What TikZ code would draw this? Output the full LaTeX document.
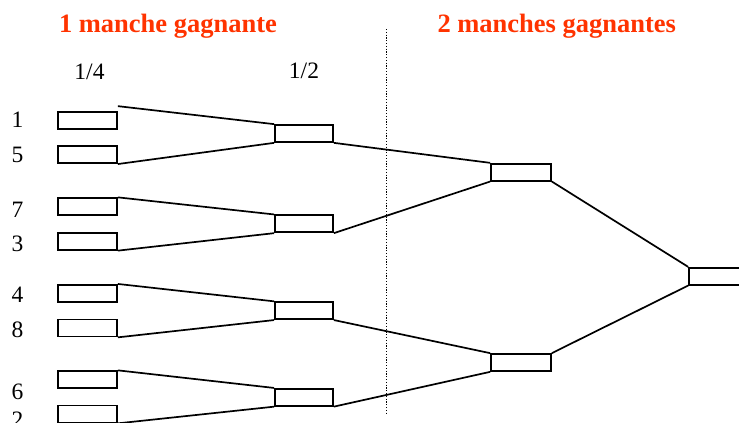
\documentclass[tikz,border=0pt]{standalone}
\usepackage{fontspec}
\setmainfont{Liberation Serif}
\usepackage{tikz}

\definecolor{titlered}{RGB}{255,51,0}

\begin{document}
\begin{tikzpicture}[x = 1pt, y = -1pt,
		slot/.style = {draw, rectangle, line width = 1.7pt, inner sep = 0pt, minimum width = 59pt, minimum height = 17pt},
		link/.style = {line width = 1.7pt},
		player/.style = {anchor = base, font = \fontsize{23.5}{28}\selectfont},
		heading/.style = {anchor = base west, text = titlered, font = \fontsize{26.5}{30}\selectfont\bfseries}]
	
		% Frame of the picture
		\useasboundingbox (0, 0) rectangle (739, 423);
		\clip (0, 0) rectangle (739, 423);
		
		% Titles
		\node[heading] (h1) at (55.5, 32) {1 manche gagnante};
		\node[heading] (h2) at (434, 32) {2 manches gagnantes};
		\node[player] (r4) at (89.5, 79.5) {1/4};
		\node[player] (r2) at (304, 78.5) {1/2};
		
		% Separator
		\coordinate (septop) at (386.7, 29);
		\coordinate (sepbot) at (386.7, 413);
		\draw[line width = 1.4pt, dash pattern = on 1.1pt off 1.7pt] (septop) -- (sepbot);
		
		% Players
		\node[player] (n1) at (17.5, 127.5) {1};
		\node[player] (n5) at (17.5, 162) {5};
		\node[player] (n7) at (17.5, 217) {7};
		\node[player] (n3) at (17.5, 251.5) {3};
		\node[player] (n4) at (17.5, 302) {4};
		\node[player] (n8) at (17.5, 337) {8};
		\node[player] (n6) at (17.5, 399.5) {6};
		\node[player] (n2) at (17.5, 427) {2};
		
		% Quarter finals
		\node[slot] (q1) at (87.5, 120.5) {};
		\node[slot] (q5) at (87.5, 154.7) {};
		\node[slot] (q7) at (87.5, 206.7) {};
		\node[slot] (q3) at (87.5, 241.3) {};
		\node[slot] (q4) at (87.5, 293.3) {};
		\node[slot] (q8) at (87.5, 328) {};
		\node[slot] (q6) at (87.5, 379.7) {};
		\node[slot] (q2) at (87.5, 414) {};
		
		% Semi finals
		\node[slot, minimum width = 58pt] (s1) at (304, 133.5) {};
		\node[slot, minimum width = 58pt] (s2) at (304, 223.8) {};
		\node[slot, minimum width = 58pt] (s3) at (304, 310.7) {};
		\node[slot, minimum width = 58pt] (s4) at (304, 397.3) {};
		
		% Finals
		\node[slot, minimum width = 60pt] (f1) at (521, 172.2) {};
		\node[slot, minimum width = 60pt] (f2) at (521, 362.5) {};
		\node[slot, minimum width = 60pt] (w) at (719, 276.2) {};
		
		% Links
		\draw[link] ([yshift = 5pt]q1.north east) -- (s1.north west);
		\draw[link] (q5.south east) -- (s1.south west);
		\draw[link] (q7.north east) -- (s2.north west);
		\draw[link] (q3.south east) -- (s2.south west);
		\draw[link] (q4.north east) -- (s3.north west);
		\draw[link] (q8.south east) -- (s3.south west);
		\draw[link] (q6.north east) -- (s4.north west);
		\draw[link] (q2.south east) -- (s4.south west);
		
		\draw[link] (s1.south east) -- (f1.north west);
		\draw[link] (s2.south east) -- (f1.south west);
		\draw[link] (s3.south east) -- (f2.north west);
		\draw[link] (s4.south east) -- (f2.south west);
		
		\draw[link] (f1.south east) -- (w.north west);
		\draw[link] (f2.north east) -- (w.south west);
		
	\end{tikzpicture}
\end{document}
